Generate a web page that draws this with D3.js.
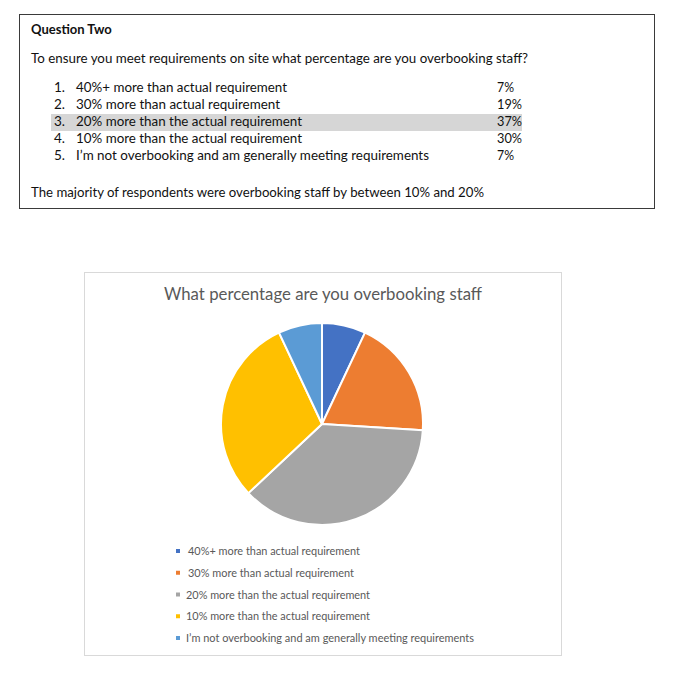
<!DOCTYPE html>
<html>
<head>
<meta charset="utf-8">
<script src="https://cdn.jsdelivr.net/npm/d3@7/dist/d3.min.js"></script>
<style>
  html, body { margin: 0; padding: 0; background: #fff; }
  svg { display: block; }
</style>
</head>
<body>
<svg id="chart" width="677" height="680"></svg>
<script>
// ---- data ----
const questionTitle = "Question Two";
const questionText = "To ensure you meet requirements on site what percentage are you overbooking staff?";
const categories = [
  "40%+ more than actual requirement",
  "30% more than actual requirement",
  "20% more than the actual requirement",
  "10% more than the actual requirement",
  "I\u2019m not overbooking and am generally meeting requirements"
];
const values = [7, 19, 37, 30, 7];
const highlightIndex = 2;
const summaryText = "The majority of respondents were overbooking staff by between 10% and 20%";
const chartTitle = "What percentage are you overbooking staff";
const legendLabels = [
  " 40%+ more than actual requirement",
  " 30% more than actual requirement",
  "20% more than the actual requirement",
  "10% more than the actual requirement",
  "I\u2019m not overbooking and am generally meeting requirements"
];
const colors = ["#4472C4", "#ED7D31", "#A5A5A5", "#FFC000", "#5B9BD5"];

// ---- layout ----
const svg = d3.select("#chart");
const FONT = "Lato, 'Open Sans', sans-serif";

function fitText(sel, w) {
  const node = sel.node();
  const len = node.getComputedTextLength();
  if (w && Math.abs(len - w) > 1) {
    sel.attr("textLength", w).attr("lengthAdjust", "spacingAndGlyphs");
  }
  return sel;
}

// Top box
svg.append("rect")
  .attr("x", 19.5).attr("y", 14.5).attr("width", 635).attr("height", 194)
  .attr("fill", "#fff").attr("stroke", "#3a3a3a").attr("stroke-width", 1);

const txt = svg.append("g").attr("font-family", FONT).attr("fill", "#111");

fitText(txt.append("text").attr("x", 31).attr("y", 34)
  .attr("font-size", 13).attr("font-weight", "bold").text(questionTitle), 81);

fitText(txt.append("text").attr("x", 31).attr("y", 63)
  .attr("font-size", 13.5).text(questionText), 497);

const rowY = d3.scalePoint().domain(d3.range(categories.length)).range([92, 160]);
const itemEnds = [287, 280, 302, 302, 429];
const pctW = [17, 25, 25, 25, 17];

// highlight row
svg.insert("rect", "g")
  .attr("x", 51).attr("y", rowY(highlightIndex) - 12)
  .attr("width", 471).attr("height", 17)
  .attr("fill", "#d6d6d6");

categories.forEach((c, i) => {
  txt.append("text").attr("x", 54).attr("y", rowY(i))
    .attr("font-size", 13.5).text((i + 1) + ".");
  fitText(txt.append("text").attr("x", 76).attr("y", rowY(i))
    .attr("font-size", 13.5).text(c), itemEnds[i] - 76);
  fitText(txt.append("text").attr("x", 497).attr("y", rowY(i))
    .attr("font-size", 13.5).text(values[i] + "%"), pctW[i]);
});

fitText(txt.append("text").attr("x", 31).attr("y", 197)
  .attr("font-size", 13.5).text(summaryText), 453);

// Chart box
svg.append("rect")
  .attr("x", 84.5).attr("y", 272.5).attr("width", 477).attr("height", 383)
  .attr("fill", "#fff").attr("stroke", "#d9d9d9").attr("stroke-width", 1);

fitText(svg.append("text").attr("x", 323).attr("y", 300)
  .attr("text-anchor", "middle").attr("font-family", FONT)
  .attr("font-size", 18).attr("fill", "#595959").text(chartTitle), 318);

// Pie
const cx = 322, cy = 424, r = 101;
const pie = d3.pie().sort(null).value(d => d)(values);
const arc = d3.arc().innerRadius(0).outerRadius(r);
svg.append("g").attr("transform", `translate(${cx},${cy})`)
  .selectAll("path").data(pie).join("path")
  .attr("d", arc)
  .attr("fill", (d, i) => colors[i])
  .attr("stroke", "#fff").attr("stroke-width", 2)
  .attr("stroke-linejoin", "round");

// Legend
const legY = d3.scalePoint().domain(d3.range(legendLabels.length)).range([551, 638]);
const legEnds = [360, 354, 370, 370, 474];
const leg = svg.append("g").attr("font-family", FONT);
legendLabels.forEach((l, i) => {
  leg.append("rect").attr("x", 176).attr("y", legY(i) - 2)
    .attr("width", 4).attr("height", 4).attr("fill", colors[i]);
  const start = l.startsWith(" ") ? 188 : 186;
  fitText(leg.append("text").attr("x", start).attr("y", legY(i) + 4)
    .attr("font-size", 11).attr("fill", "#595959").text(l.trim()), legEnds[i] - start);
});
</script>
</body>
</html>
